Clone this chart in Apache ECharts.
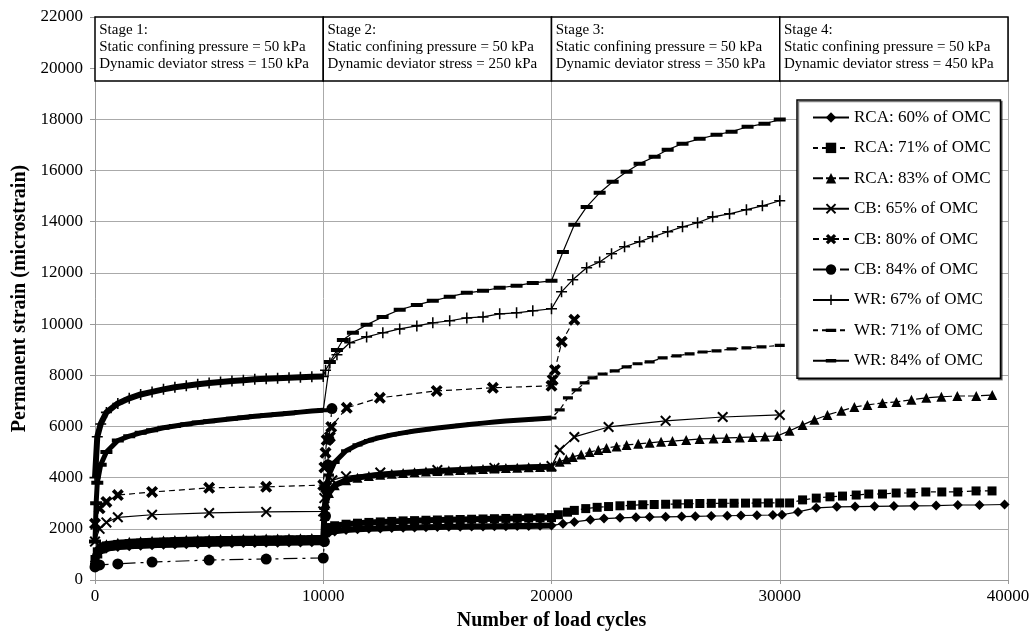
<!DOCTYPE html>
<html><head><meta charset="utf-8">
<script src="https://cdn.jsdelivr.net/npm/echarts@6/dist/echarts.min.js"></script>
<style>html,body{margin:0;padding:0;background:#fff}#c{width:1033px;height:632px}</style>
</head><body><div id="c"></div><script>
// ---- data: [load cycles, permanent strain (microstrain)] ----
const seriesNames = ['RCA: 60% of OMC','RCA: 71% of OMC','RCA: 83% of OMC','CB: 65% of OMC','CB: 80% of OMC','CB: 84% of OMC','WR: 67% of OMC','WR: 71% of OMC','WR: 84% of OMC'];
const stageLabels = [
 'Stage 1:\nStatic confining pressure = 50 kPa\nDynamic deviator stress = 150 kPa',
 'Stage 2:\nStatic confining pressure = 50 kPa\nDynamic deviator stress = 250 kPa',
 'Stage 3:\nStatic confining pressure = 50 kPa\nDynamic deviator stress = 350 kPa',
 'Stage 4:\nStatic confining pressure = 50 kPa\nDynamic deviator stress = 450 kPa'];
const stageBounds = [0, 10000, 20000, 30000, 40000];

const rca60 = [[0,700],[100,1000],[250,1150],[500,1230],[1000,1290],[1500,1320],[2000,1340],[2500,1360],[3000,1375],[3500,1390],[4000,1400],[4500,1410],[5000,1420],[5500,1430],[6000,1440],[6500,1445],[7000,1450],[7500,1455],[8000,1460],[8500,1465],[9000,1470],[9500,1475],[10000,1480],
 [10100,1750],[10250,1850],[10500,1900],[11000,1950],[11500,1980],[12000,2000],[12500,2015],[13000,2030],[13500,2040],[14000,2050],[14500,2060],[15000,2070],[15500,2080],[16000,2085],[16500,2090],[17000,2095],[17500,2100],[18000,2105],[18500,2110],[19000,2115],[19500,2120],[20000,2125],
 [20500,2200],[21000,2270],[21700,2350],[22300,2400],[23000,2430],[23700,2450],[24300,2460],[25000,2470],[25700,2480],[26300,2490],[27000,2500],[27700,2510],[28300,2520],[29000,2530],[29700,2540],[30100,2550],
 [30800,2660],[31600,2820],[32500,2860],[33300,2870],[34150,2880],[35000,2890],[35900,2900],[36850,2910],[37800,2930],[38750,2930],[39850,2950]];
const rca71 = [[0,800],[100,1100],[250,1250],[500,1330],[1000,1390],[1500,1420],[2000,1440],[2500,1460],[3000,1475],[3500,1490],[4000,1500],[4500,1510],[5000,1520],[5500,1530],[6000,1535],[6500,1540],[7000,1545],[7500,1550],[8000,1555],[8500,1560],[9000,1565],[9500,1570],[10000,1575],
 [10100,1950],[10250,2050],[10500,2120],[11000,2180],[11500,2220],[12000,2250],[12500,2270],[13000,2290],[13500,2310],[14000,2320],[14500,2335],[15000,2345],[15500,2355],[16000,2365],[16500,2375],[17000,2385],[17500,2395],[18000,2405],[18500,2410],[19000,2420],[19500,2430],[20000,2440],
 [20300,2550],[20700,2650],[21000,2720],[21500,2790],[22000,2840],[22500,2870],[23000,2900],[23500,2920],[24000,2940],[24500,2950],[25000,2960],[25500,2970],[26000,2980],[26500,2990],[27000,2995],[27500,3000],[28000,3000],[28500,3005],[29000,3010],[29500,3010],[30000,3010],
 [30430,3010],[31000,3130],[31600,3200],[32200,3250],[32750,3280],[33350,3320],[33900,3360],[34500,3360],[35100,3400],[35750,3400],[36400,3440],[37100,3440],[37800,3440],[38600,3480],[39300,3480]];
const rca83 = [[0,900],[100,1200],[250,1330],[500,1400],[1000,1460],[1500,1490],[2000,1510],[2500,1530],[3000,1545],[3500,1560],[4000,1570],[4500,1580],[5000,1590],[5500,1600],[6000,1605],[6500,1610],[7000,1615],[7500,1620],[8000,1625],[8500,1630],[9000,1635],[9500,1640],[10000,1645],
 [10050,2500],[10100,3000],[10250,3400],[10500,3700],[11000,3900],[11500,4000],[12000,4060],[12500,4110],[13000,4150],[13500,4180],[14000,4210],[14500,4240],[15000,4260],[15500,4280],[16000,4300],[16500,4320],[17000,4340],[17500,4360],[18000,4375],[18500,4390],[19000,4405],[19500,4420],[20000,4430],
 [20360,4620],[20650,4720],[20930,4810],[21300,4900],[21670,5000],[22050,5080],[22410,5160],[22850,5220],[23290,5280],[23800,5320],[24300,5360],[24800,5400],[25300,5430],[25900,5470],[26490,5510],[27100,5530],[27670,5550],[28250,5570],[28810,5590],[29350,5610],[29900,5630],
 [30430,5830],[31000,6060],[31520,6260],[32090,6450],[32700,6610],[33270,6760],[33840,6840],[34500,6920],[35110,6960],[35770,7040],[36420,7120],[37080,7160],[37780,7190],[38610,7190],[39310,7230]];
const cb65 = [[0,1500],[200,2000],[500,2250],[1000,2450],[2500,2550],[5000,2620],[7500,2660],[10000,2680],
 [10050,3200],[10150,3600],[10400,3900],[11000,4050],[12500,4200],[15000,4300],[17500,4380],[20000,4450],
 [20360,5080],[21000,5590],[22500,5980],[25000,6220],[27500,6370],[30000,6450]];
const cb80 = [[0,2200],[200,2800],[500,3050],[1000,3320],[2500,3440],[5000,3600],[7500,3640],[10000,3710],
 [10050,4400],[10100,4970],[10150,5470],[10290,5590],[10350,5980],[11030,6730],[12480,7120],[14970,7390],[17430,7510],[20000,7590],
 [20050,7820],[20150,8210],[20450,9310],[21000,10170]];
const cb84 = [[0,510],[200,590],[1000,630],[2500,700],[5000,780],[7500,820],[10000,860],
 [10050,1500],[10100,2500],[10150,3500],[10200,4500],[10250,5500],[10380,6700]];
const wr67 = [[0,4000],[100,5600],[250,6100],[500,6550],[1000,6900],[1500,7100],[2000,7250],[2500,7350],[3000,7450],[3500,7530],[4000,7590],[4500,7650],[5000,7700],[5500,7740],[6000,7780],[6500,7810],[7000,7840],[7500,7860],[8000,7880],[8500,7900],[9000,7920],[9500,7940],[10000,7950],
 [10100,8200],[10290,8480],[10600,8800],[11160,9270],[11900,9500],[12610,9660],[13350,9810],[14100,9930],[14800,10050],[15540,10130],[16290,10240],[17000,10280],[17730,10400],[18470,10440],[19180,10520],[20000,10600],
 [20440,11260],[20930,11730],[21540,12200],[22110,12430],[22630,12750],[23200,13020],[23860,13220],[24430,13410],[25090,13610],[25740,13800],[26400,13960],[27060,14190],[27800,14310],[28540,14470],[29240,14620],[30000,14820]];
const wr71 = [[0,600],[100,900],[250,1100],[500,1200],[1000,1280],[2000,1330],[3000,1360],[4000,1390],[5000,1410],[6000,1430],[7000,1440],[8000,1450],[9000,1460],[10000,1470],
 [10050,2800],[10100,3500],[10250,4100],[10500,4600],[11000,5050],[11500,5280],[12000,5450],[12500,5570],[13000,5670],[13500,5750],[14000,5820],[14500,5880],[15000,5940],[15500,5990],[16000,6040],[16500,6090],[17000,6130],[17500,6170],[18000,6210],[18500,6240],[19000,6270],[19500,6300],[20000,6330],
 [20360,6650],[20720,7120],[21100,7430],[21450,7700],[21800,7900],[22240,8050],[22770,8170],[23290,8330],[23770,8450],[24300,8520],[24870,8680],[25480,8760],[26050,8840],[26620,8910],[27230,8950],[27890,9030],[28540,9070],[29200,9110],[30000,9170]];
const wr84 = [[0,1500],[50,3000],[100,3800],[250,4500],[500,5000],[1000,5450],[1500,5620],[2000,5750],[2500,5850],[3000,5950],[3500,6020],[4000,6090],[4500,6150],[5000,6200],[5500,6250],[6000,6300],[6500,6350],[7000,6400],[7500,6440],[8000,6480],[8500,6520],[9000,6560],[9500,6600],[10000,6630],
 [10290,8520],[10600,8990],[10860,9380],[11300,9660],[11900,9970],[12600,10280],[13350,10560],[14100,10750],[14800,10910],[15540,11070],[16290,11220],[17000,11300],[17730,11420],[18470,11500],[19180,11610],[20000,11690],
 [20500,12820],[21000,13880],[21540,14580],[22110,15130],[22680,15560],[23290,15950],[23860,16270],[24520,16540],[25090,16810],[25740,17050],[26490,17240],[27230,17400],[27890,17520],[28590,17710],[29330,17830],[30000,17990]];

// ---- styling ----
const FONT = 'Liberation Serif';
const SYM_X = 'path://M0,1.3 L1.3,0 L5,3.7 L8.7,0 L10,1.3 L6.3,5 L10,8.7 L8.7,10 L5,6.3 L1.3,10 L0,8.7 L3.7,5 Z';
const SYM_XB = 'path://M0,2.2 L2.2,0 L5,2.8 L7.8,0 L10,2.2 L7.2,5 L10,7.8 L7.8,10 L5,7.2 L2.2,10 L0,7.8 L2.8,5 Z';
const SYM_PLUS = 'path://M4.3,0 L5.7,0 L5.7,4.3 L10,4.3 L10,5.7 L5.7,5.7 L5.7,10 L4.3,10 L4.3,5.7 L0,5.7 L0,4.3 L4.3,4.3 Z';
const SYM_DASH = 'path://M0,0 L0.01,0 L0,0.01 Z M12,12 L11.99,12 L12,11.99 Z M0,4 L12,4 L12,8 L0,8 Z';
const SYM_SDASH = 'path://M0,0 L0.01,0 L0,0.01 Z M10,10 L9.99,10 L10,9.99 Z M0,3.4 L10,3.4 L10,6.6 L0,6.6 Z';

// dense: range of load cycles where the logged points merge into a solid band
const styles = [
 {d: rca60, sym:'diamond', size:10, type:'solid', dense:[0,20000], bw:6},
 {d: rca71, sym:'rect', size:9, type:[5,4], dense:[0,20000], bw:6},
 {d: rca83, sym:'triangle', size:10, type:[10,3], dense:[0,20000], bw:6},
 {d: cb65, sym:SYM_X, size:11, type:'solid'},
 {d: cb80, sym:SYM_XB, size:12, type:[6,4]},
 {d: cb84, sym:'circle', size:11, type:[14,5,3,5]},
 {d: wr67, sym:SYM_PLUS, size:11, type:'solid', dense:[0,10000], bw:6},
 {d: wr71, sym:SYM_SDASH, size:10, type:[5,4], dense:[0,20000], bw:5},
 {d: wr84, sym:SYM_DASH, size:12, type:'solid', dense:[0,10000], bw:5}
];

const series = styles.map((s, i) => ({
  name: seriesNames[i], type: 'line', data: s.d,
  symbol: s.sym, symbolSize: s.size, showAllSymbol: true,
  itemStyle: {color: '#000'},
  lineStyle: {color: '#000', width: 1.2, type: s.type},
  z: 3
}));
styles.forEach((s, i) => {
  if (!s.dense) return;
  series.push({
    name: seriesNames[i], type: 'line', symbol: 'none', silent: true,
    data: s.d.filter(p => p[0] >= s.dense[0] && p[0] <= s.dense[1]),
    lineStyle: {color: '#000', width: s.bw, type: 'solid'}, z: 2
  });
});

series[0].markArea = {
  silent: true, z: 1,
  itemStyle: {color: '#fff', borderColor: '#000', borderWidth: 1.5},
  label: {show: true, position: 'insideTopLeft', distance: 5, color: '#000', fontFamily: FONT, fontSize: 15, lineHeight: 17},
  data: stageLabels.map((t, i) => [{name: t, coord: [stageBounds[i], 19500]}, {coord: [stageBounds[i+1], 22000]}])
};

const chart = echarts.init(document.getElementById('c'), null, {renderer: 'canvas'});
chart.setOption({
  animation: false,
  backgroundColor: '#fff',
  textStyle: {fontFamily: FONT, color: '#000'},
  grid: {left: 95, right: 25, top: 17, bottom: 52, containLabel: false, outerBoundsMode: 'none'},
  legend: {
    data: seriesNames, orient: 'vertical', left: 797, top: 100,
    padding: [9, 10, 9, 15], itemGap: 13.4, itemWidth: 36, itemHeight: 13,
    backgroundColor: '#fff', borderColor: '#000', borderWidth: 1.5,
    shadowColor: 'rgba(0,0,0,0.5)', shadowOffsetX: 1.5, shadowOffsetY: 1.5, shadowBlur: 0,
    textStyle: {fontFamily: FONT, fontSize: 17, color: '#000'}
  },
  xAxis: {
    type: 'value', min: 0, max: 40000, interval: 10000,
    name: 'Number of load cycles', nameLocation: 'middle', nameGap: 31,
    nameTextStyle: {fontFamily: FONT, fontSize: 20, fontWeight: 'bold', color: '#000'},
    axisLine: {show: true, lineStyle: {color: '#999', width: 1}},
    axisTick: {show: true, length: 4, lineStyle: {color: '#999'}},
    axisLabel: {fontFamily: FONT, fontSize: 17, color: '#000', margin: 8, formatter: v => String(v)},
    splitLine: {show: true, lineStyle: {color: '#aaa', width: 1}}
  },
  yAxis: {
    type: 'value', min: 0, max: 22000, interval: 2000,
    name: 'Permanent strain (microstrain)', nameLocation: 'middle', nameGap: 64,
    nameTextStyle: {fontFamily: FONT, fontSize: 20, fontWeight: 'bold', color: '#000'},
    axisLine: {show: true, lineStyle: {color: '#999', width: 1}},
    axisTick: {show: true, length: 5, lineStyle: {color: '#999'}},
    axisLabel: {fontFamily: FONT, fontSize: 17, color: '#000', margin: 12, formatter: v => String(v)},
    splitLine: {show: true, lineStyle: {color: '#aaa', width: 1}}
  },
  series: series
});
</script></body></html>
